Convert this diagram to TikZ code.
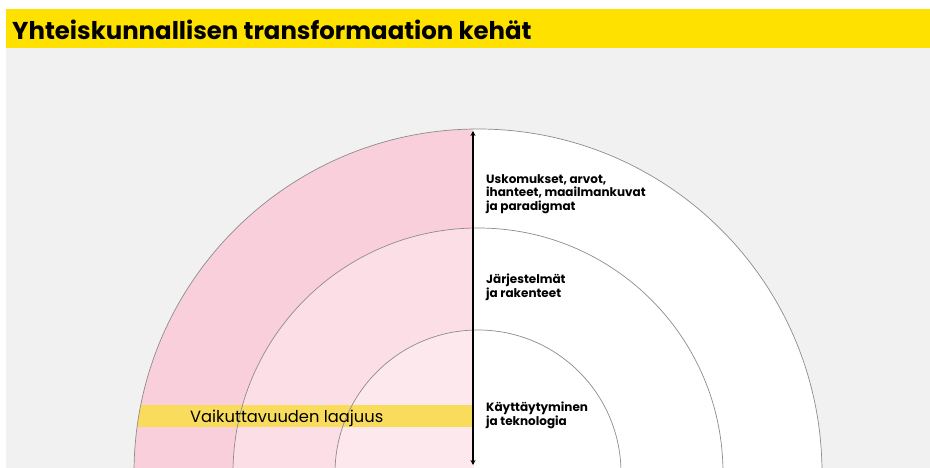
\documentclass[tikz,border=0pt]{standalone}
\usepackage{fontspec}
\setmainfont{Poppins}
\usetikzlibrary{arrows.meta}
\definecolor{bggray}{HTML}{F1F1F1}
\definecolor{titleyellow}{HTML}{FFE100}
\definecolor{bandyellow}{HTML}{F9DC5C}
\definecolor{pinkA}{HTML}{F9CFDB}
\definecolor{pinkB}{HTML}{FCDFE6}
\definecolor{pinkC}{HTML}{FDE8EE}
\definecolor{ringline}{HTML}{8C8C8C}
\tikzset{
  ring/.style={draw=ringline, line width=0.7pt},
  ringlabel/.style={anchor=north west, inner sep=0pt, align=left, font=\bfseries\fontsize{12}{13.5}\selectfont},
  scalearrow/.style={{Stealth[length=5pt,width=5pt]}-{Stealth[length=5pt,width=5pt]}, line width=1.1pt, black}
}
\begin{document}
\begin{tikzpicture}[x=1pt,y=-1pt]
\useasboundingbox (0,0) rectangle (930,468);
\fill[white] (0,0) rectangle (930,468);
\fill[bggray] (6,48) rectangle (930,468);
\fill[titleyellow] (6,9) rectangle (930,48);
\node[anchor=west, inner sep=0pt, font=\bfseries\fontsize{24.4}{28}\selectfont] (title) at (12,29.5) {Yhteiskunnallisen transformaation kehät};
\coordinate (c) at (478,473);
\begin{scope}
  \clip (0,48) rectangle (930,468);
  \fill[white] (c) circle[radius=344pt];
  \begin{scope}
    \clip (0,48) rectangle (473,468);
    \fill[pinkA] (c) circle[radius=344pt];
    \fill[pinkB] (c) circle[radius=245pt];
    \fill[pinkC] (c) circle[radius=143pt];
    \clip (c) circle[radius=344pt];
    \fill[bandyellow] (0,405) rectangle (473,427);
  \end{scope}
  \draw[ring] (c) circle[radius=344pt];
  \draw[ring] (c) circle[radius=245pt];
  \draw[ring] (c) circle[radius=143pt];
\end{scope}
\node[anchor=base west, inner sep=0pt, font=\fontsize{16.3}{19}\selectfont] (scope) at (190,422) {Vaikuttavuuden laajuus};
\coordinate (top) at (473,131);
\coordinate (bot) at (473,465);
\draw[scalearrow] (top) -- (bot);
\node[ringlabel] (outer) at (486,174) {Uskomukset, arvot,\\ihanteet, maailmankuvat\\ja paradigmat};
\node[ringlabel] (middle) at (486,274) {Järjestelmät\\ja rakenteet};
\node[ringlabel] (inner) at (486,402) {Käyttäytyminen\\ja teknologia};
\end{tikzpicture}
\end{document}
